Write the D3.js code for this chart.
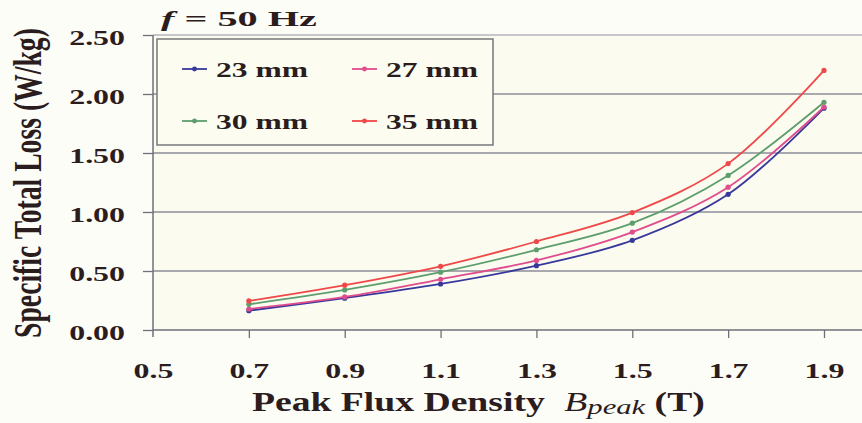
<!DOCTYPE html>
<html>
<head>
<meta charset="utf-8">
<script src="https://cdn.jsdelivr.net/npm/d3@7/dist/d3.min.js"></script>
<style>
  html, body { margin: 0; padding: 0; background: #fdfdf8; }
  svg { display: block; }
  text { font-family: "Liberation Serif", "Times New Roman", serif; font-weight: bold; fill: #2b1c1e; }
</style>
</head>
<body>
<svg id="chart" width="862" height="423"></svg>
<script>
// Peak flux density (T)
const fluxDensity = [0.7, 0.9, 1.1, 1.3, 1.5, 1.7, 1.9];
// Specific total loss (W/kg) per lamination width
const loss23 = [0.164, 0.27, 0.39, 0.545, 0.76, 1.15, 1.88];
const loss27 = [0.178, 0.28, 0.43, 0.59, 0.83, 1.21, 1.89];
const loss30 = [0.218, 0.34, 0.49, 0.68, 0.905, 1.31, 1.93];
const loss35 = [0.246, 0.38, 0.54, 0.75, 0.995, 1.41, 2.20];
const seriesNames = ["23 mm", "27 mm", "30 mm", "35 mm"];
const xTicks = [0.5, 0.7, 0.9, 1.1, 1.3, 1.5, 1.7, 1.9];
const yTicks = [0, 0.5, 1.0, 1.5, 2.0, 2.5];

const colors = ["#38389c", "#e04c8c", "#5e9e6e", "#f04848"];
const series = [loss23, loss27, loss30, loss35].map((vals, i) => ({
  name: seriesNames[i], color: colors[i],
  points: fluxDensity.map((b, j) => ({ b, v: vals[j] }))
}));

const svg = d3.select("#chart");
const plotL = 153, plotR = 862, plotT = 35, plotB = 330;
const SX = 1.45; // horizontal stretch of the lettering

const x = d3.scaleLinear().domain([0.5, 1.9]).range([plotL, 824]);
const y = d3.scaleLinear().domain([0, 2.5]).range([plotB, plotT]);

// plot area background
svg.append("rect").attr("x", plotL).attr("y", plotT).attr("width", plotR - plotL).attr("height", plotB - plotT)
  .attr("fill", "#fbfcef");

// horizontal gridlines
svg.append("g").selectAll("line").data(yTicks.filter(d => d > 0)).join("line")
  .attr("x1", plotL).attr("x2", plotR)
  .attr("y1", d => y(d)).attr("y2", d => y(d))
  .attr("stroke", d => d === 2.5 ? "#b4b4be" : "#8c8c9a").attr("stroke-width", 1.4);

// x axis
const xAxis = svg.append("g").attr("transform", `translate(0,${plotB})`)
  .call(d3.axisBottom(x).tickValues(xTicks).tickSizeInner(8).tickSizeOuter(0).tickFormat(d3.format(".1f")));
xAxis.select(".domain").attr("d", `M${plotL},0H${plotR}`).attr("stroke", "#6f6f78").attr("stroke-width", 1.5);
xAxis.selectAll(".tick line").attr("stroke", "#6f6f78").attr("stroke-width", 1.3);
xAxis.selectAll(".tick").filter(d => d === 0.5).select("line").remove();
xAxis.selectAll(".tick text")
  .attr("y", 0).attr("dy", 0)
  .attr("transform", `translate(0,48) scale(${SX},1)`)
  .style("font-size", "22px").style("font-family", "Liberation Serif, serif")
  .attr("fill", "#2b1c1e");

// y axis
const yAxis = svg.append("g").attr("transform", `translate(${plotL},0)`)
  .call(d3.axisLeft(y).tickValues(yTicks).tickSizeInner(10).tickSizeOuter(0).tickFormat(d3.format(".2f")));
yAxis.select(".domain").attr("d", `M0,${plotT}V${plotB + 7}`).attr("stroke", "#6f6f78").attr("stroke-width", 1.5);
yAxis.selectAll(".tick line").attr("stroke", "#6f6f78").attr("stroke-width", 1.3);
yAxis.selectAll(".tick text")
  .attr("x", 0).attr("dy", 0)
  .attr("transform", `translate(-28,9) scale(${SX},1)`)
  .style("font-size", "22px").style("font-family", "Liberation Serif, serif")
  .attr("fill", "#2b1c1e");

// loss curves
const line = d3.line().x(d => x(d.b)).y(d => y(d.v)).curve(d3.curveCatmullRom.alpha(0.5));
const gS = svg.append("g");
series.forEach(s => {
  gS.append("path").datum(s.points).attr("d", line)
    .attr("fill", "none").attr("stroke", s.color).attr("stroke-width", 1.8);
  gS.append("g").selectAll("circle").data(s.points).join("circle")
    .attr("cx", d => x(d.b)).attr("cy", d => y(d.v)).attr("r", 2.6).attr("fill", s.color);
});

// fit a group's natural width to a target width by horizontal scaling
function placeFitted(g, px, py, targetW) {
  const bb = g.node().getBBox();
  const sx = targetW / bb.width;
  g.attr("transform", `translate(${px - bb.x * sx},${py}) scale(${sx},1)`);
}

// legend
const legendG = svg.append("g");
legendG.append("rect").attr("x", 157).attr("y", 39).attr("width", 336).attr("height", 106)
  .attr("fill", "#fcfdf0").attr("stroke", "#77777f").attr("stroke-width", 1.5);
const legendPos = [[182, 69], [352, 69], [182, 121], [352, 121]];
series.forEach((s, i) => {
  const [lx, ly] = legendPos[i];
  legendG.append("line").attr("x1", lx).attr("x2", lx + 25).attr("y1", ly).attr("y2", ly)
    .attr("stroke", s.color).attr("stroke-width", 1.8);
  legendG.append("circle").attr("cx", lx + 12.5).attr("cy", ly).attr("r", 2.4).attr("fill", s.color);
  const lt = legendG.append("g");
  lt.append("text").attr("x", 0).attr("y", 0).style("font-size", "22px").text(s.name);
  placeFitted(lt, lx + 34, ly + 8, 92);
});

// frequency label
const freqG = svg.append("g");
const ft = freqG.append("text").style("font-size", "21px");
ft.append("tspan").style("font-style", "italic").text("f");
ft.append("tspan").text(" = 50 Hz");
placeFitted(freqG, 161, 26, 156);

// x axis title
const xTitleG = svg.append("g");
const xt = xTitleG.append("text").style("font-size", "27px");
xt.append("tspan").text("Peak Flux Density");
xt.append("tspan").attr("dx", 14).style("font-style", "italic").style("font-weight", "normal").text("B");
xt.append("tspan").style("font-style", "italic").style("font-weight", "normal").style("font-size", "22px").attr("dy", 3).text("peak");
xt.append("tspan").attr("dy", -3).text(" (T)");
placeFitted(xTitleG, 252, 411, 453);

// y axis title (rotated)
const yTitleG = svg.append("g");
const yt = yTitleG.append("text").attr("text-anchor", "middle").style("font-size", "25px")
  .attr("transform", "rotate(-90)").text("Specific Total Loss (W/kg)");
const ylen = yt.node().getComputedTextLength();
yt.style("font-size", (25 * 310 / ylen) + "px");
yTitleG.attr("transform", `translate(41,183) scale(1.45,1)`);
</script>
</body>
</html>
